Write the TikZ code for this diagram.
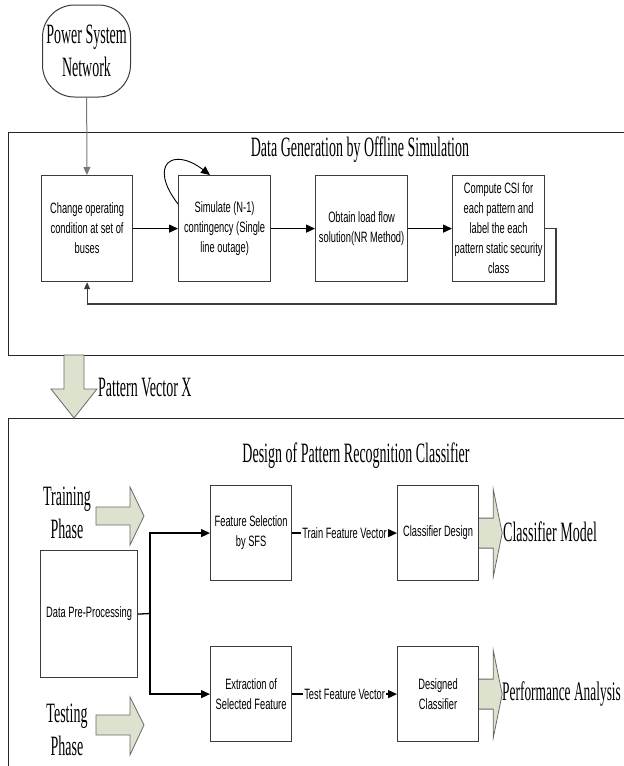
\documentclass[tikz,border=0pt]{standalone}
\usepackage{fontspec}
\setmainfont{Liberation Serif}
\newfontfamily\capfont[FakeStretch=0.5]{Liberation Serif}
\newfontfamily\boxfont[FakeStretch=0.62]{Liberation Sans}
\usepackage{xcolor}
\definecolor{LineGray}{RGB}{60,60,60}
\definecolor{SoftGray}{RGB}{120,120,120}
\definecolor{ArrowFill}{RGB}{221,226,206}
\definecolor{ArrowEdge}{RGB}{105,105,105}
\usepackage{tikz}
\usetikzlibrary{arrows.meta, positioning, calc}
\tikzset{
  % Process box
  pbox/.style={
    rectangle, draw=LineGray, line width=1.2pt,
    fill=white, align=center, anchor=north west,
    inner sep=1pt,
    font=\boxfont\fontsize{15}{20}\selectfont
  },
  % Start terminal
  terminal/.style={
    rectangle, rounded corners=32pt,
    draw=LineGray, line width=1pt,
    minimum width=88pt, minimum height=92pt,
    align=center, inner sep=0pt,
    font=\capfont\fontsize{28}{33}\selectfont
  },
  % Outer frames
  framebox/.style={
    rectangle, draw=black!85, line width=1.3pt,
    anchor=north west, inner sep=0pt
  },
  % Captions
  captext/.style={font=\capfont\fontsize{28}{33}\selectfont, align=center, inner sep=0pt},
  % Arrows
  arr/.style={-{Triangle[length=9pt,width=8pt]}, line width=1.3pt, black},
  garr/.style={-{Triangle[length=8pt,width=7pt]}, line width=1pt, SoftGray},
  fbarr/.style={-{Triangle[length=7pt,width=6pt]}, line width=1.1pt, LineGray},
  wire/.style={line width=1.3pt, black},
  % Edge label
  elabel/.style={font=\boxfont\fontsize{15}{18}\selectfont, fill=white, inner sep=1pt},
  % Block arrow
  fat/.style={fill=ArrowFill, draw=ArrowEdge, line width=0.8pt},
}

\begin{document}
\begin{tikzpicture}[x=1pt, y=-1pt]
  \useasboundingbox (0,0) rectangle (624,766);

  %% Frames
  \node[framebox, minimum width=630pt, minimum height=223pt] (gen) at (8,132) {};
  \node[framebox, minimum width=630pt, minimum height=370pt] (design) at (8,418) {};

  \node[captext] (gentitle) at (360,150) {Data Generation by Offline Simulation};
  \node[captext] (destitle) at (356,456) {Design of Pattern Recognition Classifier};

  %% Offline simulation
  \node[terminal] (psn) at (86.5,51) {Power System\\Network};

  \node[pbox, minimum width=91pt, minimum height=106pt] (change) at (41,175) {Change operating\\condition at set of\\buses};
  \node[pbox, minimum width=92pt, minimum height=106pt] (simulate) at (178,175) {Simulate (N-1)\\contingency (Single\\line outage)};
  \node[pbox, minimum width=92pt, minimum height=106pt] (loadflow) at (315,175) {Obtain load flow\\solution(NR Method)};
  \node[pbox, minimum width=92pt, minimum height=106pt] (csi) at (452,175) {Compute CSI for\\each pattern and\\label the each\\pattern static security\\class};

  \draw[garr] (psn) -- (change);
  \draw[arr] (change) -- (simulate);
  \draw[arr] (simulate) -- (loadflow);
  \draw[arr] (loadflow) -- (csi);
  \draw[arr, line width=0.9pt] ($(simulate.north west)+(0,29)$) .. controls (148,165) and (172,146) .. ($(simulate.north west)+(32,0)$);

  \coordinate (fbc) at (556,304);
  \draw[fbarr] (csi.east) -| (fbc) -| (change.south);

  %% Pattern vector
  \draw[fat] (64,355) -- (84,355) -- (84,389) -- (97,389) -- (74,418) -- (51,389) -- (64,389) -- cycle;
  \node[captext, anchor=west] (pvx) at (98,388) {Pattern Vector X};

  %% Classifier
  \node[captext] (train) at (67,513) {Training\\Phase};
  \draw[fat] (96,507) -- (130,507) -- (130,487) -- (144,516) -- (130,545) -- (130,525) -- (96,525) -- cycle;
  \node[captext] (test) at (67,730) {Testing\\Phase};
  \draw[fat] (96,715) -- (130,715) -- (130,697) -- (144,725) -- (130,755) -- (130,735) -- (96,735) -- cycle;

  \node[pbox, minimum width=97pt, minimum height=127pt] (prep) at (40,550) {Data Pre-Processing};
  \node[pbox, minimum width=81pt, minimum height=95pt] (fsel) at (210,485) {Feature Selection\\by SFS};
  \node[pbox, minimum width=81pt, minimum height=95pt] (extr) at (210,646) {Extraction of\\Selected Feature};
  \node[pbox, minimum width=81pt, minimum height=95pt] (cdesign) at (397,485) {Classifier Design};
  \node[pbox, minimum width=81pt, minimum height=95pt] (dclass) at (397,646) {Designed\\Classifier};

  \coordinate (split) at (150,613.5);
  \draw[wire] (prep.east) -- (split);
  \draw[arr] (split) |- (fsel.west);
  \draw[arr] (split) |- (extr.west);

  \draw[arr] (fsel) -- node[elabel]{Train Feature Vector} (cdesign);
  \draw[arr] (extr) -- node[elabel]{Test Feature Vector} (dclass);

  %% Outputs
  \draw[fat] ($(cdesign.east)+(0,-15)$) -- ++(14,0) -- ++(0,-29) -- ++(9,44) -- ++(-9,44) -- ++(0,-29) -- ++(-14,0);
  \node[captext, anchor=west] (model) at (503,532) {Classifier Model};
  \draw[fat] ($(dclass.east)+(0,-15)$) -- ++(14,0) -- ++(0,-29) -- ++(9,44) -- ++(-9,44) -- ++(0,-29) -- ++(-14,0);
  \node[captext, anchor=west, font=\capfont\fontsize{26.8}{33}\selectfont] (perf) at (502,694) {Performance Analysis};

\end{tikzpicture}
\end{document}
